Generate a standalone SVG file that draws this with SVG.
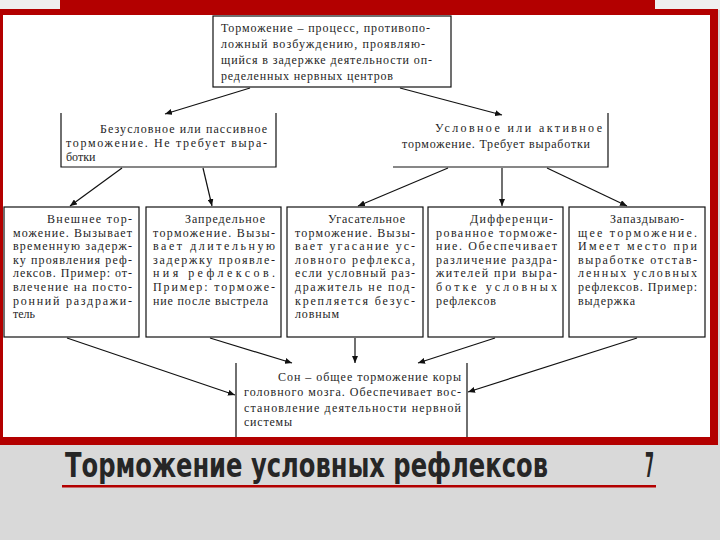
<svg xmlns="http://www.w3.org/2000/svg" width="720" height="540" viewBox="0 0 720 540">
<defs>
<style>
.t{font-family:"Liberation Serif","DejaVu Serif","Noto Serif","Times New Roman",serif;font-size:12px;fill:#1e1e1e}
.b{fill:#fff;stroke:#111;stroke-width:1.2}
.e{fill:none;stroke:#111;stroke-width:1.2}
.c{stroke:#111;stroke-width:1.2;fill:none;marker-end:url(#ah)}
.red{fill:#b30000}
.ttl{font-family:"DejaVu Sans Condensed","DejaVu Sans","Liberation Sans",sans-serif;font-weight:bold;font-stretch:condensed;font-size:25px;fill:#262626}
</style>
<marker id="ah" markerUnits="userSpaceOnUse" markerWidth="7" markerHeight="6" viewBox="0 0 7 6" refX="7" refY="3" orient="auto">
<path d="M0,0 L7,3 L0,6 z" fill="#111"/>
</marker>
</defs>
<rect x="0" y="0" width="720" height="540" fill="#d9d9d9"/>
<g id="frame">
<rect x="0" y="0" width="720" height="10" fill="#efefef"/>
<rect class="red" x="0" y="9" width="718" height="436"/>
<rect class="red" x="60" y="0" width="595" height="15"/>
<rect x="3" y="15" width="707" height="422" fill="#fff"/>
</g>
<g id="connectors">
<line class="c" x1="250" y1="88" x2="165" y2="114"/>
<line class="c" x1="400" y1="88" x2="502" y2="115"/>
<line class="c" x1="122" y1="168" x2="70" y2="206"/>
<line class="c" x1="203" y1="168" x2="212" y2="206"/>
<line class="c" x1="448" y1="168" x2="358" y2="206"/>
<line class="c" x1="502" y1="168" x2="502" y2="206"/>
<line class="c" x1="547" y1="168" x2="627" y2="206"/>
<line class="c" x1="67" y1="338" x2="235" y2="395"/>
<line class="c" x1="210" y1="338" x2="292" y2="363"/>
<line class="c" x1="355" y1="338" x2="355" y2="363"/>
<line class="c" x1="495" y1="338" x2="418" y2="363"/>
<line class="c" x1="637" y1="338" x2="468" y2="392"/>
</g>
<g id="n-top">
<rect class="b" x="213" y="16" width="238" height="71"/>
<text class="t" x="221" y="32" textLength="209">Торможение – процесс, противопо-</text>
<text class="t" x="221" y="48" textLength="204">ложный возбуждению, проявляю-</text>
<text class="t" x="221" y="64" textLength="211">щийся в задержке деятельности оп-</text>
<text class="t" x="221" y="80" textLength="172">ределенных нервных центров</text>
</g>
<g id="n-uncond">
<path class="e" d="M61,113 V167 H276 V113"/>
<text class="t" x="100" y="133" textLength="167">Безусловное или пассивное</text>
<text class="t" x="66" y="147" textLength="201">торможение. Не требует выра-</text>
<text class="t" x="66" y="161">ботки</text>
</g>
<g id="n-cond">
<path class="e" d="M393,167 H608 V113"/>
<text class="t" x="435" y="132" textLength="167">Условное или активное</text>
<text class="t" x="402" y="148" textLength="188">торможение. Требует выработки</text>
</g>
<g id="n-external">
<rect class="b" x="4" y="207" width="135" height="130"/>
<text class="t" x="47" y="223" textLength="85">Внешнее тор-</text>
<text class="t" x="13" y="236.6" textLength="119">можение. Вызывает</text>
<text class="t" x="13" y="250.2" textLength="119">временную задерж-</text>
<text class="t" x="13" y="263.8" textLength="119">ку проявления реф-</text>
<text class="t" x="13" y="277.4" textLength="119">лексов. Пример: от-</text>
<text class="t" x="13" y="291" textLength="119">влечение на посто-</text>
<text class="t" x="13" y="304.6" textLength="119">ронний раздражи-</text>
<text class="t" x="13" y="318.2">тель</text>
</g>
<g id="n-beyond">
<rect class="b" x="146" y="207" width="135" height="130"/>
<text class="t" x="185" y="223" textLength="80">Запредельное</text>
<text class="t" x="153" y="236.6" textLength="122">торможение. Вызы-</text>
<text class="t" x="153" y="250.2" textLength="122">вает длительную</text>
<text class="t" x="153" y="263.8" textLength="122">задержку проявле-</text>
<text class="t" x="153" y="277.4" textLength="122">ния рефлексов.</text>
<text class="t" x="153" y="291" textLength="122">Пример: торможе-</text>
<text class="t" x="153" y="304.6" textLength="115">ние после выстрела</text>
</g>
<g id="n-extinct">
<rect class="b" x="287" y="207" width="136" height="130"/>
<text class="t" x="328" y="223" textLength="77">Угасательное</text>
<text class="t" x="295" y="236.6" textLength="120">торможение. Вызы-</text>
<text class="t" x="295" y="250.2" textLength="120">вает угасание ус-</text>
<text class="t" x="295" y="263.8" textLength="120">ловного рефлекса,</text>
<text class="t" x="295" y="277.4" textLength="120">если условный раз-</text>
<text class="t" x="295" y="291" textLength="120">дражитель не под-</text>
<text class="t" x="295" y="304.6" textLength="120">крепляется безус-</text>
<text class="t" x="295" y="318.2" textLength="44">ловным</text>
</g>
<g id="n-diff">
<rect class="b" x="428" y="207" width="135" height="130"/>
<text class="t" x="470" y="223" textLength="83">Дифференци-</text>
<text class="t" x="436" y="236.6" textLength="121">рованное торможе-</text>
<text class="t" x="436" y="250.2" textLength="121">ние. Обеспечивает</text>
<text class="t" x="436" y="263.8" textLength="121">различение раздра-</text>
<text class="t" x="436" y="277.4" textLength="121">жителей при выра-</text>
<text class="t" x="436" y="291" textLength="121">ботке условных</text>
<text class="t" x="436" y="304.6" textLength="60">рефлексов</text>
</g>
<g id="n-delayed">
<rect class="b" x="569" y="207" width="136" height="130"/>
<text class="t" x="610" y="223" textLength="74">Запаздываю-</text>
<text class="t" x="578" y="236.6" textLength="119">щее торможение.</text>
<text class="t" x="578" y="250.2" textLength="119">Имеет место при</text>
<text class="t" x="578" y="263.8" textLength="119">выработке отстав-</text>
<text class="t" x="578" y="277.4" textLength="119">ленных условных</text>
<text class="t" x="578" y="291" textLength="119">рефлексов. Пример:</text>
<text class="t" x="578" y="304.6" textLength="57">выдержка</text>
</g>
<g id="n-sleep">
<path class="e" d="M236,363 V437 M467,363 V437"/>
<text class="t" x="278" y="381" textLength="183">Сон – общее торможение коры</text>
<text class="t" x="244" y="396" textLength="217">головного мозга. Обеспечивает вос-</text>
<text class="t" x="244" y="411.5" textLength="217">становление деятельности нервной</text>
<text class="t" x="244" y="426" textLength="48">системы</text>
</g>
<g id="title">
<text class="ttl" transform="translate(65,477) scale(1,1.36)" x="0" y="0" textLength="483" lengthAdjust="spacingAndGlyphs">Торможение условных рефлексов</text>
<text class="ttl" transform="translate(645,477) scale(1,1.36)" x="0" y="0" textLength="9" lengthAdjust="spacingAndGlyphs">7</text>
<rect x="62" y="485" width="594" height="2.5" fill="#b30000"/>
</g>
</svg>
